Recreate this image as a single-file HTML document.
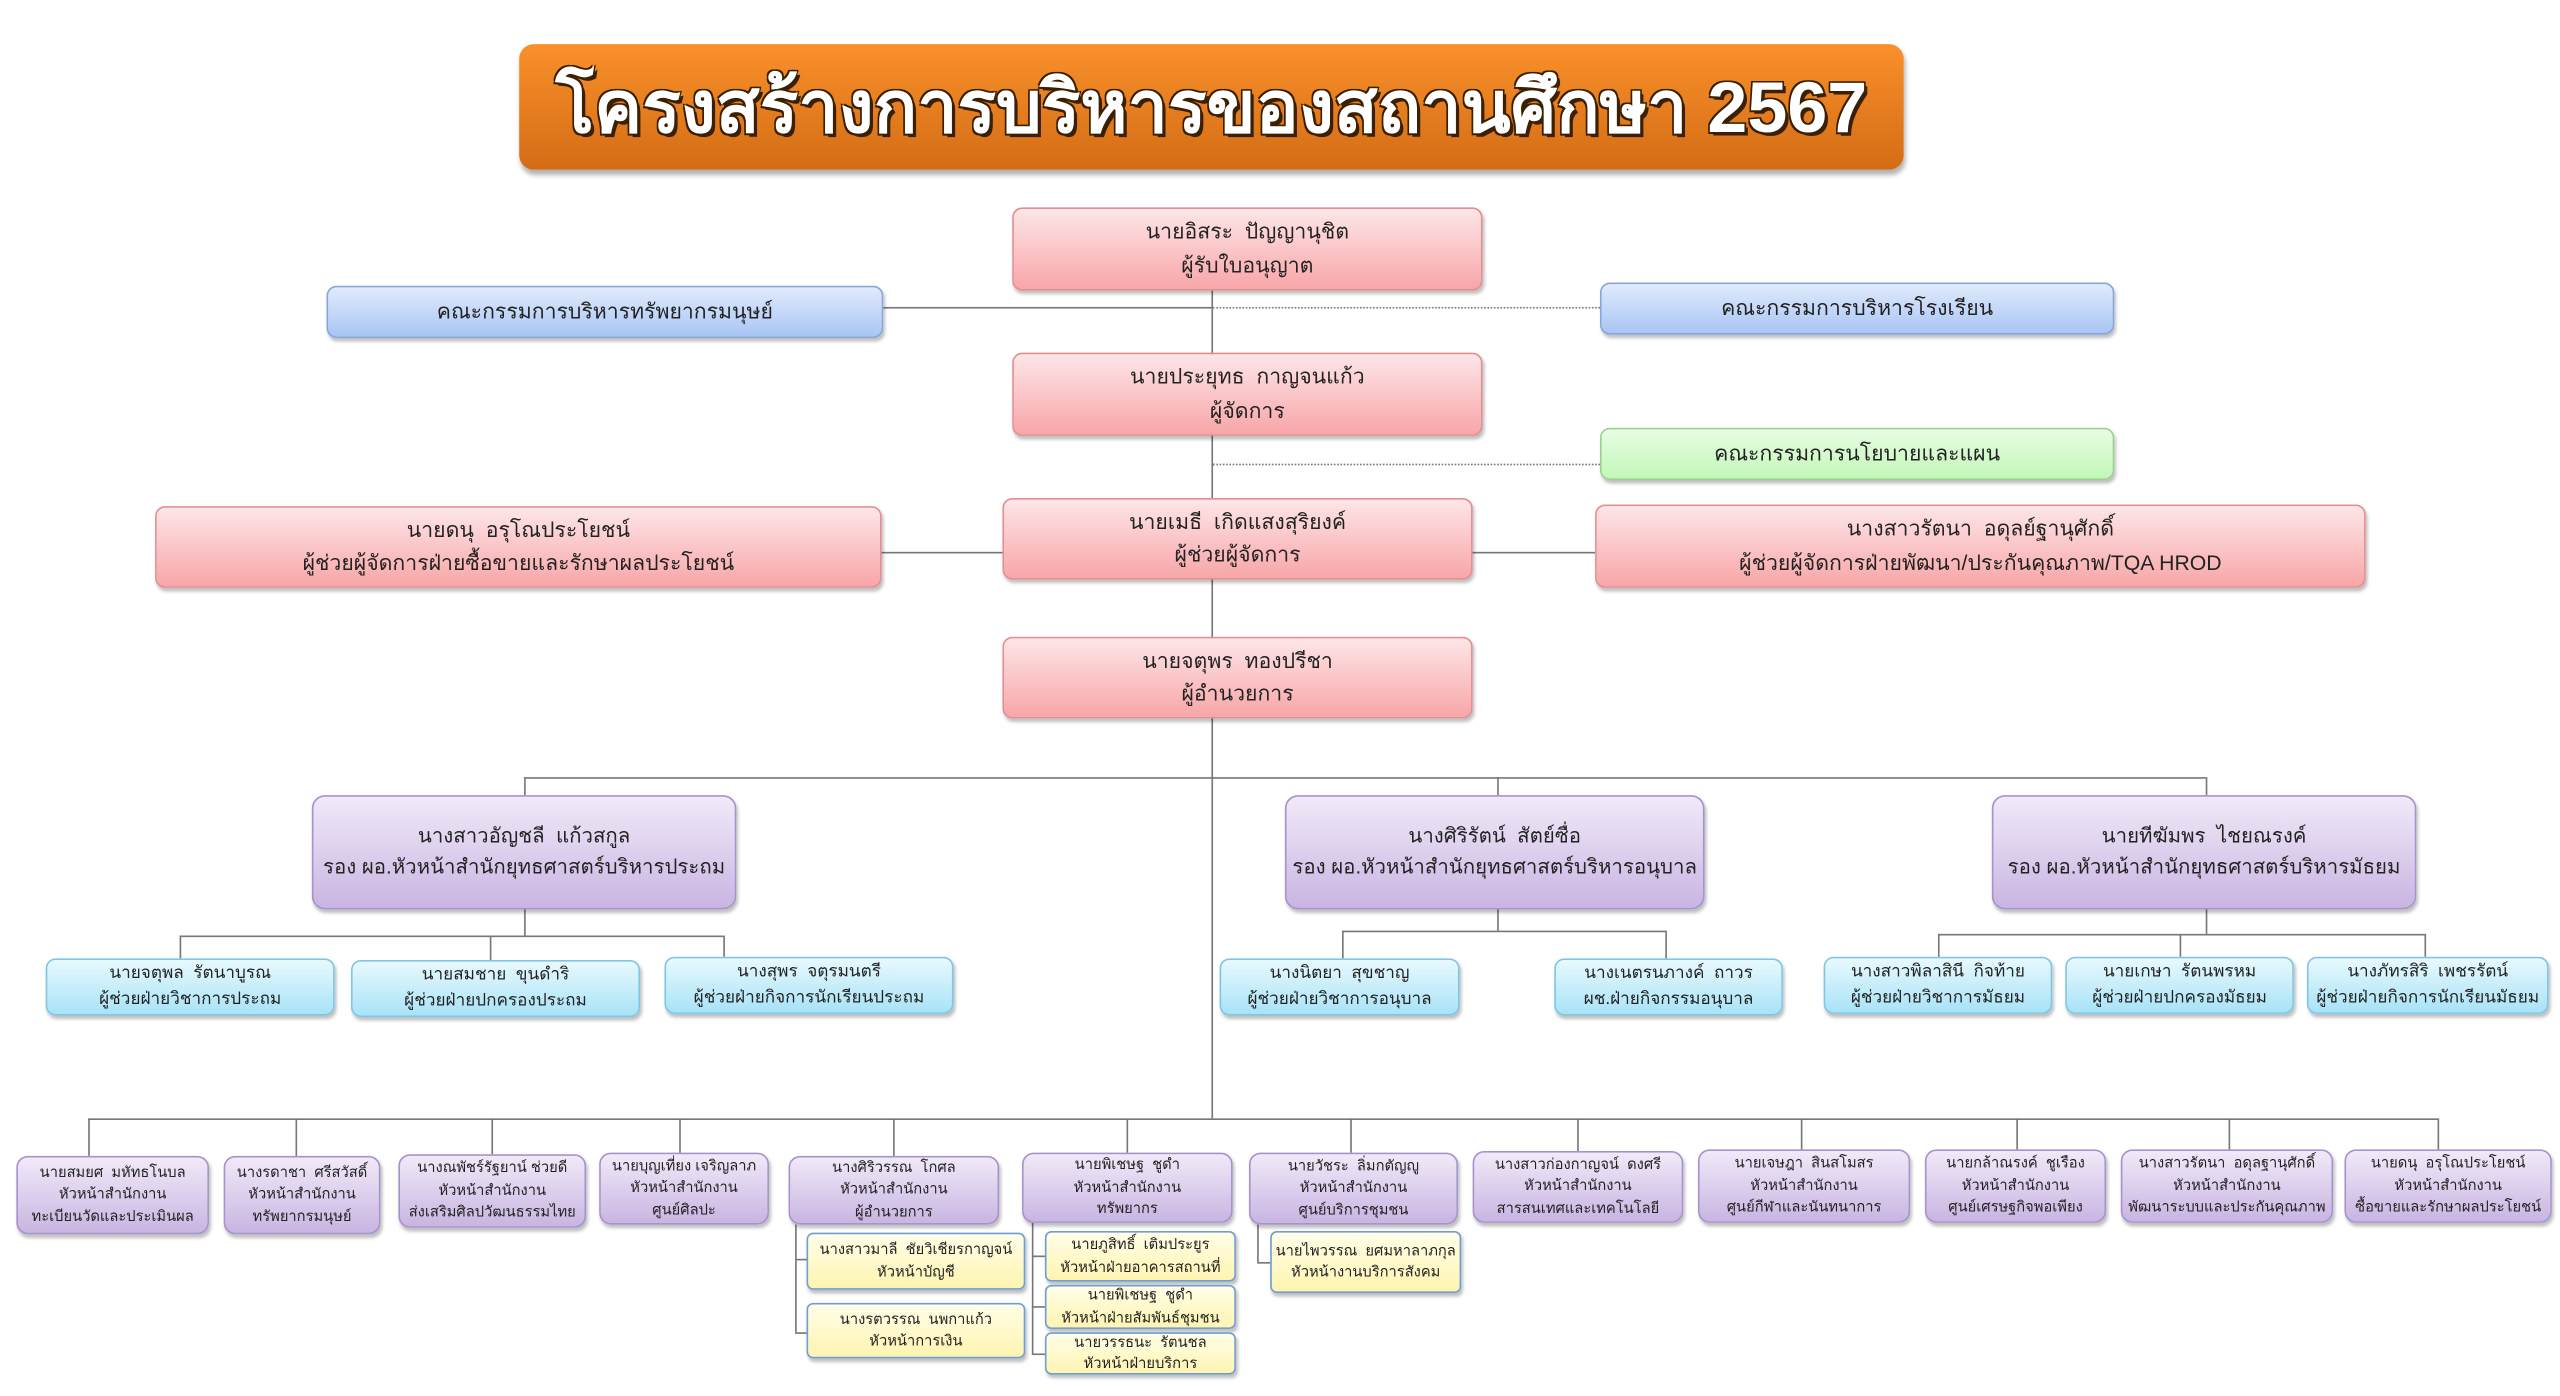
<!DOCTYPE html>
<html><head><meta charset="utf-8">
<style>
html,body{margin:0;padding:0;background:#fff;overflow:hidden}
#wrap{position:absolute;left:0;top:0;width:1568px;height:855px;transform:scale(1.63265);transform-origin:0 0;font-family:"Liberation Sans","DejaVu Sans",sans-serif;color:#222}
.b{position:absolute;box-sizing:border-box;border-radius:6px;display:flex;flex-direction:column;justify-content:center;align-items:center;text-align:center;line-height:1.55;white-space:nowrap;box-shadow:1px 2px 2px rgba(0,0,0,.25)}
.p{background:linear-gradient(#fde6e8,#f8a6a8);border:1px solid #e48e90;font-size:13px}
.bl{background:linear-gradient(#e0ebfc,#a9c5f4);border:1px solid #86a6dc;font-size:13px}
.g{background:linear-gradient(#e8fde4,#c2f7b8);border:1px solid #9bd08f;font-size:13px}
.v{background:linear-gradient(#f1eaf8,#c8b5e2);border:1px solid #a692cc;font-size:12.5px;border-radius:8px}
.c{background:linear-gradient(#e8f9fe,#a8e3f7);border:1px solid #7fc6e4;font-size:10.5px;line-height:1.45}
.s{background:linear-gradient(#f1eaf8,#c8b5e2);border:1px solid #a692cc;font-size:9px;line-height:1.5;border-radius:7px}
.y{background:linear-gradient(#fffee8,#fff4b0);border:1.5px solid #6f9fd2;font-size:9px;line-height:1.5;border-radius:4px}
.h{position:absolute;height:1px;background:#777}
.vl{position:absolute;width:1px;background:#777}
.dot{position:absolute;height:0;border-top:1px dotted #777}
#title{position:absolute;left:318px;top:27px;width:848px;height:77px;border-radius:9px;background:linear-gradient(#f9902a,#d46c16);box-shadow:1px 3px 3px rgba(0,0,0,.3);display:flex;align-items:center;justify-content:center;color:#fff;font-weight:bold;font-size:44px;text-shadow:2px 2px 0 #3a2000,-1px -1px 0 #3a2000,1px -1px 0 #3a2000,-1px 1px 0 #3a2000;white-space:nowrap}
</style></head><body><div id="wrap">
<div id="title">โครงสร้างการบริหารของสถานศึกษา 2567</div>

<!-- connectors -->
<div class="vl" style="left:742px;top:178px;height:507px"></div>
<div class="h" style="left:541px;top:188px;width:201px"></div>
<div class="dot" style="left:742px;top:188px;width:238px"></div>
<div class="dot" style="left:742px;top:284px;width:238px"></div>
<div class="h" style="left:540px;top:338px;width:437px"></div>
<div class="h" style="left:321px;top:476px;width:1030px"></div>
<div class="vl" style="left:321px;top:476px;height:11px"></div>
<div class="vl" style="left:917px;top:476px;height:11px"></div>
<div class="vl" style="left:1351px;top:476px;height:11px"></div>

<div class="vl" style="left:321px;top:557px;height:16px"></div>
<div class="h" style="left:110px;top:573px;width:333px"></div>
<div class="vl" style="left:110px;top:573px;height:14px"></div>
<div class="vl" style="left:300px;top:573px;height:15px"></div>
<div class="vl" style="left:443px;top:573px;height:13px"></div>

<div class="vl" style="left:917px;top:557px;height:13px"></div>
<div class="h" style="left:822px;top:570px;width:198px"></div>
<div class="vl" style="left:822px;top:570px;height:17px"></div>
<div class="vl" style="left:1020px;top:570px;height:17px"></div>

<div class="vl" style="left:1351px;top:557px;height:15px"></div>
<div class="h" style="left:1187px;top:572px;width:298px"></div>
<div class="vl" style="left:1187px;top:572px;height:14px"></div>
<div class="vl" style="left:1335px;top:572px;height:14px"></div>
<div class="vl" style="left:1485px;top:572px;height:14px"></div>

<div class="h" style="left:54px;top:685px;width:1439px"></div>
<div class="vl" style="left:54px;top:685px;height:23px"></div>
<div class="vl" style="left:181px;top:685px;height:23px"></div>
<div class="vl" style="left:301px;top:685px;height:22px"></div>
<div class="vl" style="left:416px;top:685px;height:21px"></div>
<div class="vl" style="left:547px;top:685px;height:23px"></div>
<div class="vl" style="left:690px;top:685px;height:21px"></div>
<div class="vl" style="left:827px;top:685px;height:21px"></div>
<div class="vl" style="left:966px;top:685px;height:20px"></div>
<div class="vl" style="left:1103px;top:685px;height:19px"></div>
<div class="vl" style="left:1235px;top:685px;height:19px"></div>
<div class="vl" style="left:1365px;top:685px;height:19px"></div>
<div class="vl" style="left:1493px;top:685px;height:19px"></div>

<div class="vl" style="left:487px;top:750px;height:66px"></div>
<div class="h" style="left:487px;top:771px;width:7px"></div>
<div class="h" style="left:487px;top:816px;width:7px"></div>
<div class="vl" style="left:632px;top:749px;height:80px"></div>
<div class="h" style="left:632px;top:769px;width:8px"></div>
<div class="h" style="left:632px;top:800px;width:8px"></div>
<div class="h" style="left:632px;top:829px;width:8px"></div>
<div class="vl" style="left:770px;top:750px;height:23px"></div>
<div class="h" style="left:770px;top:773px;width:8px"></div>

<!-- top nodes -->
<div class="b p" style="left:620px;top:127px;width:288px;height:51px"><div>นายอิสระ&nbsp; ปัญญานุชิต</div><div>ผู้รับใบอนุญาต</div></div>
<div class="b bl" style="left:200px;top:175px;width:341px;height:32px">คณะกรรมการบริหารทรัพยากรมนุษย์</div>
<div class="b bl" style="left:980px;top:173px;width:315px;height:32px">คณะกรรมการบริหารโรงเรียน</div>
<div class="b p" style="left:620px;top:216px;width:288px;height:51px"><div>นายประยุทธ&nbsp; กาญจนแก้ว</div><div>ผู้จัดการ</div></div>
<div class="b g" style="left:980px;top:262px;width:315px;height:32px">คณะกรรมการนโยบายและแผน</div>
<div class="b p" style="left:95px;top:310px;width:445px;height:50px"><div>นายดนุ&nbsp; อรุโณประโยชน์</div><div>ผู้ช่วยผู้จัดการฝ่ายซื้อขายและรักษาผลประโยชน์</div></div>
<div class="b p" style="left:614px;top:305px;width:288px;height:50px"><div>นายเมธี&nbsp; เกิดแสงสุริยงค์</div><div>ผู้ช่วยผู้จัดการ</div></div>
<div class="b p" style="left:977px;top:309px;width:472px;height:51px"><div>นางสาวรัตนา&nbsp; อดุลย์ฐานุศักดิ์</div><div>ผู้ช่วยผู้จัดการฝ่ายพัฒนา/ประกันคุณภาพ/TQA HROD</div></div>
<div class="b p" style="left:614px;top:390px;width:288px;height:50px"><div>นายจตุพร&nbsp; ทองปรีชา</div><div>ผู้อำนวยการ</div></div>

<!-- deputies -->
<div class="b v" style="left:191px;top:487px;width:260px;height:70px"><div>นางสาวอัญชลี&nbsp; แก้วสกูล</div><div>รอง ผอ.หัวหน้าสำนักยุทธศาสตร์บริหารประถม</div></div>
<div class="b v" style="left:787px;top:487px;width:257px;height:70px"><div>นางศิริรัตน์&nbsp; สัตย์ซื่อ</div><div>รอง ผอ.หัวหน้าสำนักยุทธศาสตร์บริหารอนุบาล</div></div>
<div class="b v" style="left:1220px;top:487px;width:260px;height:70px"><div>นายทีฆัมพร&nbsp; ไชยณรงค์</div><div>รอง ผอ.หัวหน้าสำนักยุทธศาสตร์บริหารมัธยม</div></div>

<!-- assistants -->
<div class="b c" style="left:28px;top:587px;width:177px;height:35px"><div>นายจตุพล&nbsp; รัตนาบูรณ</div><div>ผู้ช่วยฝ่ายวิชาการประถม</div></div>
<div class="b c" style="left:215px;top:588px;width:177px;height:35px"><div>นายสมชาย&nbsp; ขุนดำริ</div><div>ผู้ช่วยฝ่ายปกครองประถม</div></div>
<div class="b c" style="left:407px;top:586px;width:177px;height:35px"><div>นางสุพร&nbsp; จตุรมนตรี</div><div>ผู้ช่วยฝ่ายกิจการนักเรียนประถม</div></div>
<div class="b c" style="left:747px;top:587px;width:147px;height:35px"><div>นางนิตยา&nbsp; สุขชาญ</div><div>ผู้ช่วยฝ่ายวิชาการอนุบาล</div></div>
<div class="b c" style="left:952px;top:587px;width:140px;height:35px"><div>นางเนตรนภางค์&nbsp; ถาวร</div><div>ผช.ฝ่ายกิจกรรมอนุบาล</div></div>
<div class="b c" style="left:1117px;top:586px;width:140px;height:35px"><div>นางสาวพิลาสินี&nbsp; กิจท้าย</div><div>ผู้ช่วยฝ่ายวิชาการมัธยม</div></div>
<div class="b c" style="left:1265px;top:586px;width:140px;height:35px"><div>นายเกษา&nbsp; รัตนพรหม</div><div>ผู้ช่วยฝ่ายปกครองมัธยม</div></div>
<div class="b c" style="left:1413px;top:586px;width:148px;height:35px"><div>นางภัทรสิริ&nbsp; เพชรรัตน์</div><div>ผู้ช่วยฝ่ายกิจการนักเรียนมัธยม</div></div>

<!-- bottom row -->
<div class="b s" style="left:10px;top:708px;width:118px;height:48px"><div>นายสมยศ&nbsp; มหัทธโนบล</div><div>หัวหน้าสำนักงาน</div><div>ทะเบียนวัดและประเมินผล</div></div>
<div class="b s" style="left:137px;top:708px;width:96px;height:48px"><div>นางรดาชา&nbsp; ศรีสวัสดิ์</div><div>หัวหน้าสำนักงาน</div><div>ทรัพยากรมนุษย์</div></div>
<div class="b s" style="left:244px;top:707px;width:115px;height:45px"><div>นางณพัชร์รัฐยาน์ ช่วยดี</div><div>หัวหน้าสำนักงาน</div><div>ส่งเสริมศิลปวัฒนธรรมไทย</div></div>
<div class="b s" style="left:367px;top:706px;width:104px;height:44px"><div>นายบุญเที่ยง เจริญลาภ</div><div>หัวหน้าสำนักงาน</div><div>ศูนย์ศิลปะ</div></div>
<div class="b s" style="left:483px;top:708px;width:129px;height:42px"><div>นางศิริวรรณ&nbsp; โกศล</div><div>หัวหน้าสำนักงาน</div><div>ผู้อำนวยการ</div></div>
<div class="b s" style="left:626px;top:706px;width:129px;height:43px"><div>นายพิเชษฐ&nbsp; ชูดำ</div><div>หัวหน้าสำนักงาน</div><div>ทรัพยากร</div></div>
<div class="b s" style="left:765px;top:706px;width:128px;height:44px"><div>นายวัชระ&nbsp; ลิ่มกตัญญู</div><div>หัวหน้าสำนักงาน</div><div>ศูนย์บริการชุมชน</div></div>
<div class="b s" style="left:902px;top:705px;width:129px;height:44px"><div>นางสาวก่องกาญจน์&nbsp; ดงศรี</div><div>หัวหน้าสำนักงาน</div><div>สารสนเทศและเทคโนโลยี</div></div>
<div class="b s" style="left:1040px;top:704px;width:130px;height:45px"><div>นายเจษฎา&nbsp; สินสโมสร</div><div>หัวหน้าสำนักงาน</div><div>ศูนย์กีฬาและนันทนาการ</div></div>
<div class="b s" style="left:1179px;top:704px;width:111px;height:45px"><div>นายกล้าณรงค์&nbsp; ชูเรือง</div><div>หัวหน้าสำนักงาน</div><div>ศูนย์เศรษฐกิจพอเพียง</div></div>
<div class="b s" style="left:1299px;top:704px;width:130px;height:45px"><div>นางสาวรัตนา&nbsp; อดุลฐานุศักดิ์</div><div>หัวหน้าสำนักงาน</div><div>พัฒนาระบบและประกันคุณภาพ</div></div>
<div class="b s" style="left:1436px;top:704px;width:127px;height:45px"><div>นายดนุ&nbsp; อรุโณประโยชน์</div><div>หัวหน้าสำนักงาน</div><div>ซื้อขายและรักษาผลประโยชน์</div></div>

<!-- yellow -->
<div class="b y" style="left:494px;top:755px;width:134px;height:35px"><div>นางสาวมาลี&nbsp; ชัยวิเชียรกาญจน์</div><div>หัวหน้าบัญชี</div></div>
<div class="b y" style="left:494px;top:798px;width:134px;height:34px"><div>นางรตวรรณ&nbsp; นพกาแก้ว</div><div>หัวหน้าการเงิน</div></div>
<div class="b y" style="left:640px;top:754px;width:117px;height:31px"><div>นายภูสิทธิ์&nbsp; เติมประยูร</div><div>หัวหน้าฝ่ายอาคารสถานที่</div></div>
<div class="b y" style="left:640px;top:787px;width:117px;height:27px"><div>นายพิเชษฐ&nbsp; ชูดำ</div><div>หัวหน้าฝ่ายสัมพันธ์ชุมชน</div></div>
<div class="b y" style="left:640px;top:816px;width:117px;height:26px"><div>นายวรรธนะ&nbsp; รัตนชล</div><div>หัวหน้าฝ่ายบริการ</div></div>
<div class="b y" style="left:778px;top:754px;width:117px;height:38px"><div>นายไพวรรณ&nbsp; ยศมหาลาภกุล</div><div>หัวหน้างานบริการสังคม</div></div>
</div></body></html>
